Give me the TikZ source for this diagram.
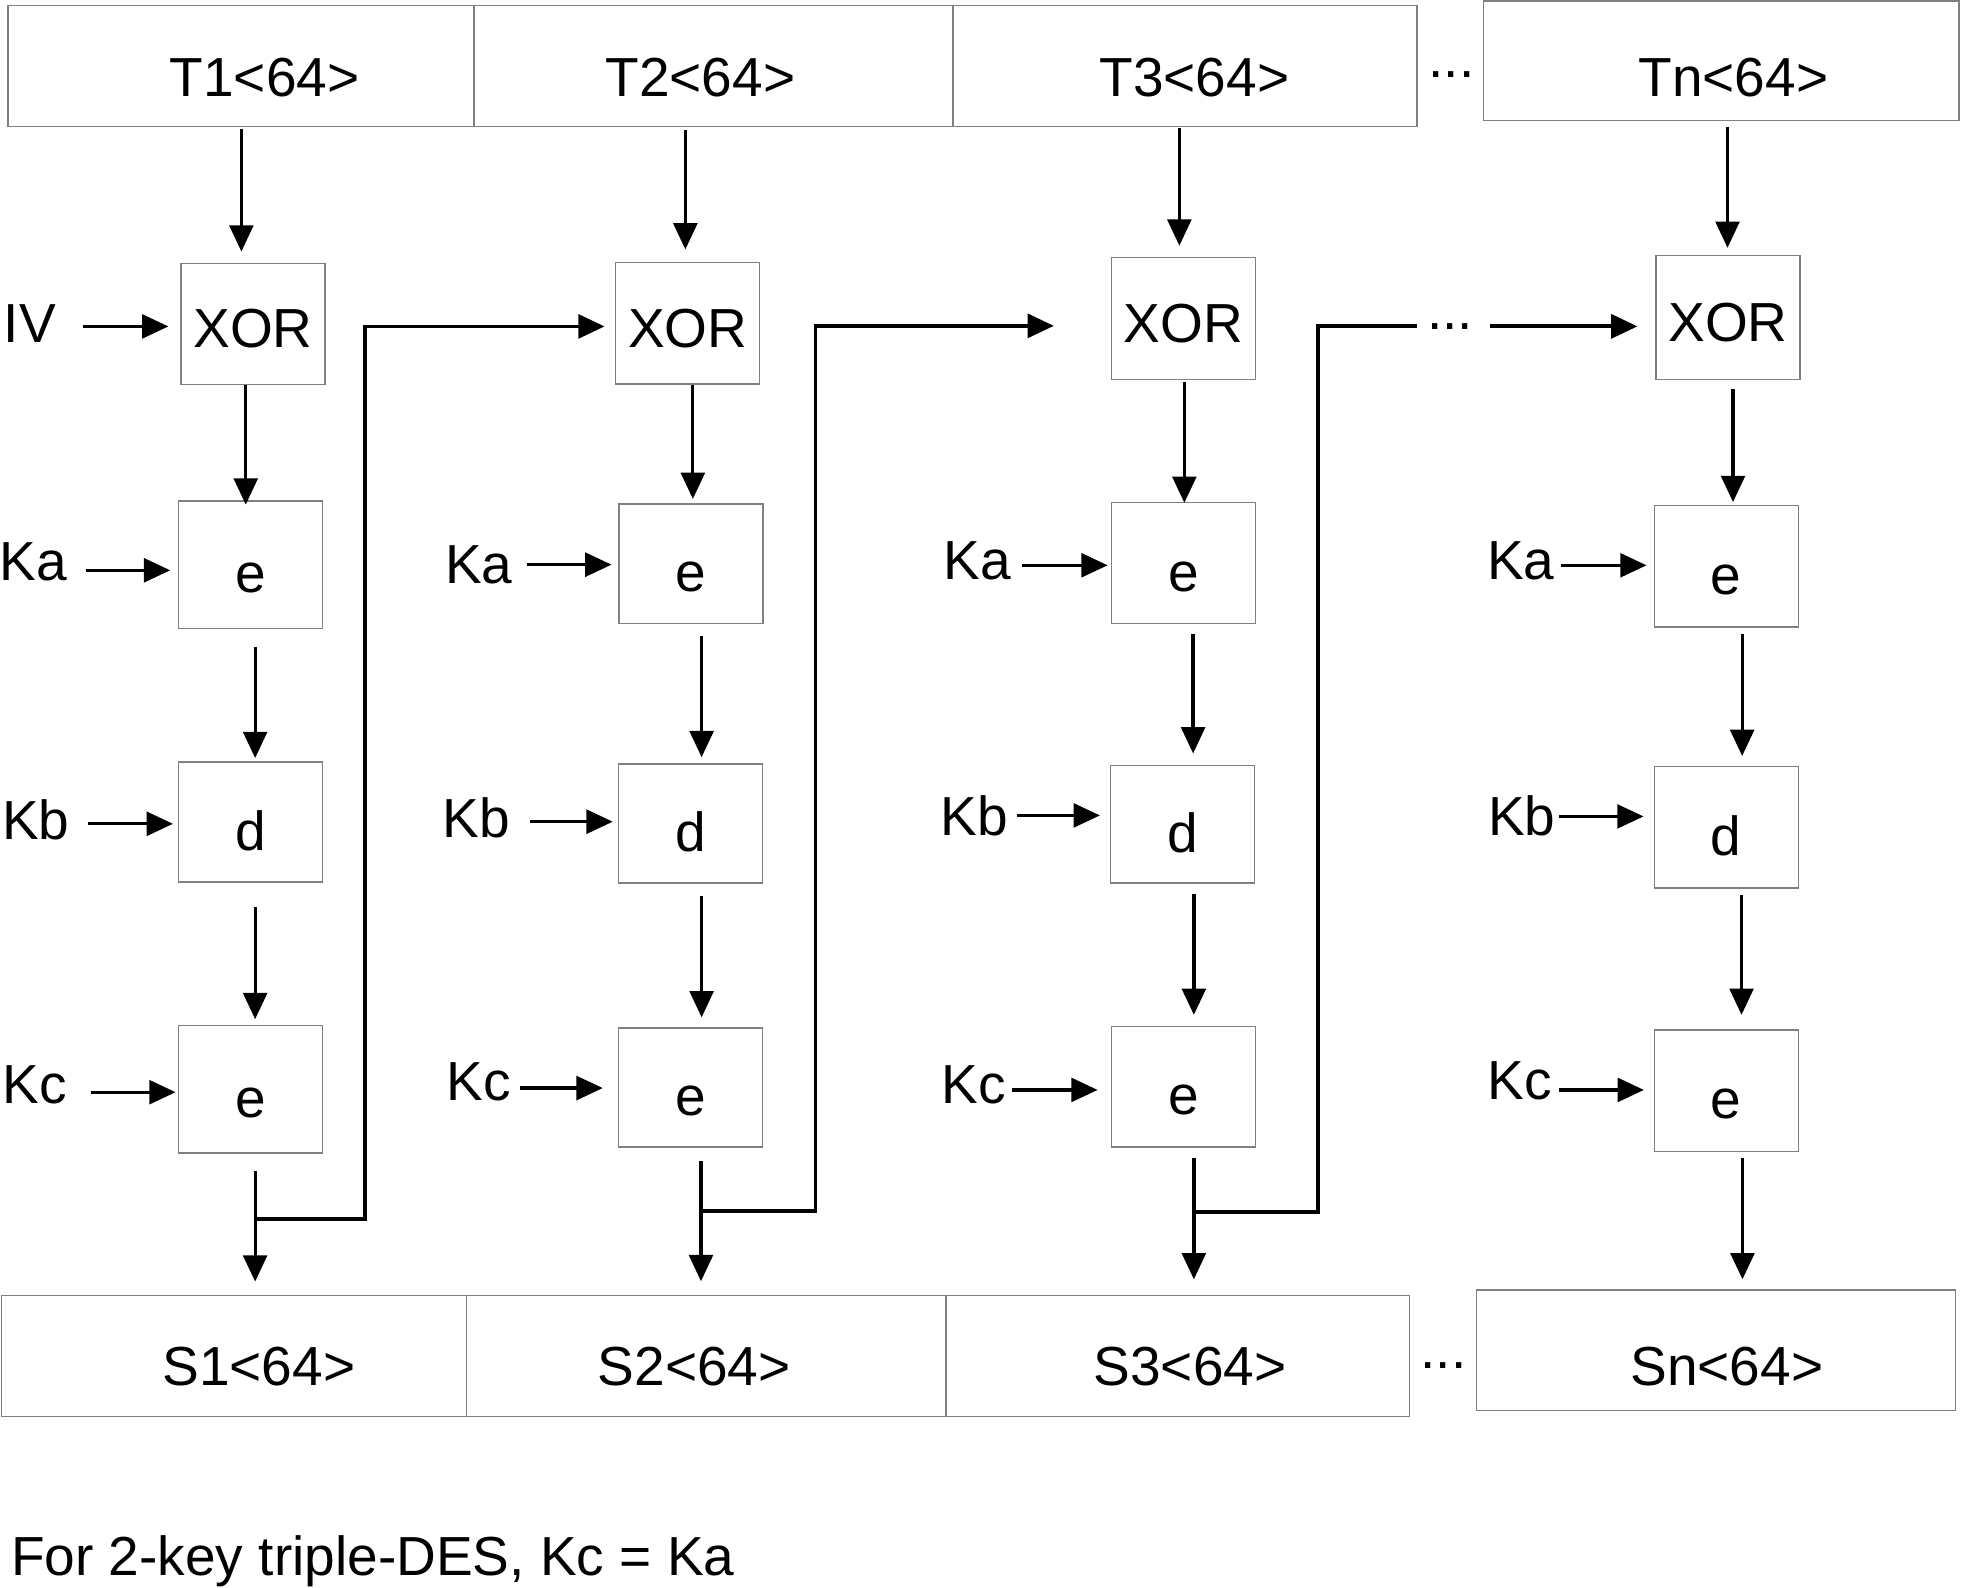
\documentclass[tikz,border=0pt]{standalone}
\usepackage{fontspec}
\setmainfont{Liberation Sans}
\usetikzlibrary{arrows.meta,calc}
\newcommand\bigf{\fontsize{44}{52}\selectfont}
\tikzset{
  box/.style={draw=black!50, line width=1.1pt, inner sep=0pt, minimum width=115pt, font=\bigf, text depth=0pt},
  xorbox/.style={box, text height=38pt},
  opbox/.style={box, text height=45pt},
  seg/.style={draw=black!50, line width=1.1pt, inner sep=0pt},
  txt/.style={inner sep=0pt, font=\bigf},
  arr/.style={line width=2.6pt, -{Triangle[length=21pt,width=19pt]}},
  fbline/.style={line width=3pt},
  fbarr/.style={line width=3pt, -{Triangle[length=21pt,width=19pt]}},
}
% vertical arrow: from, to, dx (from centre of 'to'), start gap, end gap
\newcommand\varr[5]{\draw[arr,shorten <=#4pt,shorten >=#5pt] ($(#1.south -| #2.north)+(#3,0)$) -- ($(#2.north)+(#3,0)$);}
% horizontal key arrow: label, box, dy (down), start gap, end gap
\newcommand\harr[5]{\draw[arr,shorten <=#4pt,shorten >=#5pt] ($(#1.east |- #2.west)+(0,#3)$) -- ($(#2.west)+(0,#3)$);}
\begin{document}
\begin{tikzpicture}[x=1pt,y=-1pt]
\fill[white] (0,0) rectangle (1568,1269);
\useasboundingbox (0,0) rectangle (1568,1269);

% top bar
\node[seg, minimum width=372.6pt, minimum height=97pt] (tb1) at (192.7,52.8) {};
\node[seg, minimum width=383pt, minimum height=97pt] (tb2) at (570.5,52.8) {};
\node[seg, minimum width=371pt, minimum height=97pt] (tb3) at (947.5,52.8) {};
\node[seg, minimum width=380.5pt, minimum height=95.7pt] (tbn) at (1376.25,48.65) {};
\node[txt, anchor=base] (t1) at (211.5,77) {T1<64>};
\node[txt, anchor=base] (t2) at (560,77) {T2<64>};
\node[txt, anchor=base] (t3) at (955,77) {T3<64>};
\node[txt, anchor=base] (tn) at (1386,77) {Tn<64>};
\node[txt, anchor=base west] (tdots) at (1142,62.3) {...};

% bottom bar
\node[seg, minimum width=372pt, minimum height=96.5pt] (sb1) at (187,1084.25) {};
\node[seg, minimum width=383.4pt, minimum height=96.5pt] (sb2) at (564.7,1084.25) {};
\node[seg, minimum width=370.6pt, minimum height=96.5pt] (sb3) at (941.7,1084.25) {};
\node[seg, minimum width=383pt, minimum height=96.5pt] (sbn) at (1372,1079.75) {};
\node[txt, anchor=base] (s1) at (207,1108) {S1<64>};
\node[txt, anchor=base] (s2) at (555,1108) {S2<64>};
\node[txt, anchor=base] (s3) at (951.5,1107.5) {S3<64>};
\node[txt, anchor=base] (sn) at (1380.7,1108) {Sn<64>};
\node[txt, anchor=base west] (bdots) at (1135.6,1094.3) {...};

% column 1
\node[xorbox, minimum height=96.8pt] (xor1) at (202.3,259.1) {XOR};
\node[opbox, minimum height=102.1pt] (e1) at (200.35,451.55) {e};
\node[opbox, minimum height=96pt] (d1) at (200.35,657.3) {d};
\node[opbox, minimum height=102pt] (e1b) at (200.35,871) {e};
% column 2
\node[xorbox, minimum height=97pt] (xor2) at (549.85,258.5) {XOR};
\node[opbox, minimum height=95.7pt] (e2) at (552.5,450.85) {e};
\node[opbox, minimum height=95pt] (d2) at (552,658.5) {d};
\node[opbox, minimum height=95pt] (e2b) at (552,869.5) {e};
% column 3
\node[xorbox, minimum height=97.3pt] (xor3) at (946.3,254.55) {XOR};
\node[opbox, minimum height=96.7pt] (e3) at (946.3,450.35) {e};
\node[opbox, minimum height=94pt] (d3) at (945.5,659) {d};
\node[opbox, minimum height=96.2pt] (e3b) at (946.3,868.9) {e};
% column 4
\node[xorbox, minimum height=98.7pt] (xor4) at (1381.65,253.85) {XOR};
\node[opbox, minimum height=97.3pt] (e4) at (1380.3,452.65) {e};
\node[opbox, minimum height=97pt] (d4) at (1380.3,661.5) {d};
\node[opbox, minimum height=97pt] (e4b) at (1380.3,872) {e};

% key labels
\node[txt, anchor=base west] (iv) at (2.9,273.6) {IV};
\node[txt, anchor=base west] (ka1) at (-0.5,464) {Ka};
\node[txt, anchor=base west] (kb1) at (1.6,671.5) {Kb};
\node[txt, anchor=base west] (kc1) at (2.1,882) {Kc};
\node[txt, anchor=base west] (ka2) at (355.8,466.5) {Ka};
\node[txt, anchor=base west] (kb2) at (353.8,669.7) {Kb};
\node[txt, anchor=base west] (kc2) at (356.8,879.7) {Kc};
\node[txt, anchor=base west] (ka3) at (754.2,463.5) {Ka};
\node[txt, anchor=base west] (kb3) at (751.8,668) {Kb};
\node[txt, anchor=base west] (kc3) at (752.5,882) {Kc};
\node[txt, anchor=base west] (ka4) at (1188.8,463.5) {Ka};
\node[txt, anchor=base west] (kb4) at (1189.8,668) {Kb};
\node[txt, anchor=base west] (kc4) at (1189.3,879.5) {Kc};

% vertical arrows
\varr{tb1}{xor1}{-9.3}{1.4}{9}
\varr{xor1}{e1}{-3.85}{0}{-3.5}
\varr{e1}{d1}{3.65}{14.4}{2.6}
\varr{d1}{e1b}{3.65}{19.7}{4.5}
\varr{e1b}{sb1}{17}{14}{10.7}
\varr{tb2}{xor2}{-1.85}{1.7}{10}
\varr{xor2}{e2}{1.5}{0}{3.5}
\varr{e2}{d2}{9}{9.3}{5}
\varr{d2}{e2b}{9}{10}{8}
\varr{e2b}{sb2}{-4.2}{11}{11}
\varr{tb3}{xor3}{-3.3}{0.7}{8.9}
\varr{xor3}{e3}{0.7}{1.3}{-0.6}
\varr{e3}{d3}{8.5}{7.3}{9}
\varr{d3}{e3b}{8.3}{8}{8.8}
\varr{e3b}{sb3}{12.9}{8}{12.5}
\varr{tbn}{xor4}{-0.35}{4.3}{5.8}
\varr{xor4}{e4}{5.4}{7.5}{2}
\varr{e4}{d4}{12.7}{4.7}{8}
\varr{d4}{e4b}{12.2}{5}{11.5}
\varr{e4b}{sbn}{21.25}{4.5}{8}

% key arrows
\harr{iv}{xor1}{1.9}{21.5}{9.6}
\harr{ka1}{e1}{4.45}{14.7}{6.2}
\harr{kb1}{d1}{1.4}{14.6}{4}
\harr{kc1}{e1b}{2.3}{18.6}{1.9}
\harr{ka2}{e2}{0.65}{11.4}{5.5}
\harr{kb2}{d2}{-1.5}{15.4}{4}
\harr{kc2}{e2b}{0.5}{6.9}{12}
\harr{ka3}{e3}{1.65}{9}{2.6}
\harr{kb3}{d3}{-7}{7.4}{8}
\harr{kc3}{e3b}{2.6}{5.2}{10.6}
\harr{ka4}{e4}{-0.65}{5.4}{5.7}
\harr{kb4}{d4}{-8.7}{2.4}{8.1}
\harr{kc4}{e4b}{-0.5}{5.4}{7.8}

% feedback (chaining) lines
\coordinate (j1) at ($(e1b.south)+(3.65,52)$);
\coordinate (j2) at ($(e2b.south)+(8.5,51)$);
\coordinate (j3) at ($(e3b.south)+(8.3,51.5)$);
\node[txt, anchor=base west] (hdots) at (1141,263.3) {...};
\draw[fbarr, shorten >=8.4pt] (j1) -- ++(88,0) |- ($(xor2.west)+(0,2.5)$);
\draw[fbarr, shorten >=45.6pt] (j2) -- ++(91.5,0) |- ($(xor3.west)+(0,6)$);
\draw[fbline, shorten >=8.2pt] (j3) -- ++(99.4,0) |- (hdots.west);
\draw[fbarr, shorten <=13.3pt, shorten >=14.3pt] (hdots.east) -- (hdots.east -| xor4.west);

% note
\node[txt, anchor=base west] (note) at (8.7,1260) {For 2-key triple-DES, Kc = Ka};
\end{tikzpicture}
\end{document}
